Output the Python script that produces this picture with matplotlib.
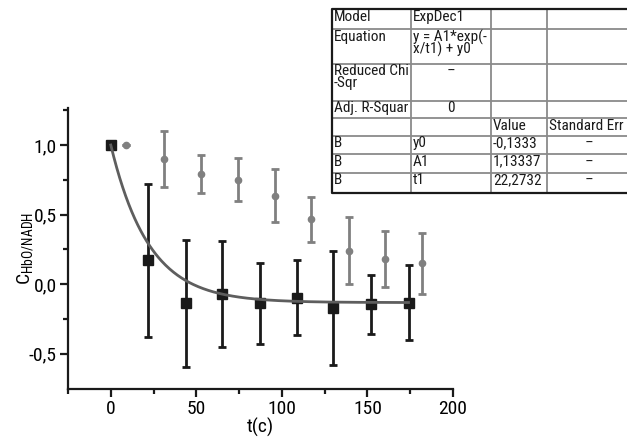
import numpy as np
import matplotlib
matplotlib.use("Agg")
import matplotlib.pyplot as plt
from matplotlib.lines import Line2D

FONT = 'Roboto Condensed'
plt.rcParams['font.family'] = [FONT, 'DejaVu Sans']
plt.rcParams['mathtext.fontset'] = 'custom'
plt.rcParams['mathtext.rm'] = FONT
plt.rcParams['mathtext.it'] = FONT

# ---- data ----
black_x = [0, 22, 44, 65, 87, 109, 130, 152, 174]
black_y = [1.0, 0.17, -0.14, -0.07, -0.14, -0.10, -0.175, -0.146, -0.134]
black_err = [0, 0.55, 0.46, 0.38, 0.29, 0.27, 0.41, 0.21, 0.27]

gray_x = [9, 31, 52.5, 74.4, 96, 117, 139, 160.5, 182]
gray_y = [1.0, 0.90, 0.79, 0.75, 0.635, 0.465, 0.24, 0.178, 0.149]
gray_err = [0, 0.20, 0.135, 0.155, 0.19, 0.16, 0.24, 0.20, 0.22]

fit_y0 = -0.1333
fit_A1 = 1.13337
fit_t1 = 22.2732

x_ticks = [0, 50, 100, 150, 200]
y_ticks = [-0.5, 0.0, 0.5, 1.0]
y_ticklabels = ['-0,5', '0,0', '0,5', '1,0']

table_rows = [
    ['Model', 'ExpDec1', '', ''],
    ['Equation', 'y = A1*exp(-\nx/t1) + y0', '', ''],
    ['Reduced Chi\n-Sqr', '--', '', ''],
    ['Adj. R-Squar', '0', '', ''],
    ['', '', 'Value', 'Standard Err'],
    ['B', 'y0', '-0,1333', '--'],
    ['B', 'A1', '1,13337', '--'],
    ['B', 't1', '22,2732', '--'],
]

W, H = 627, 441
fig = plt.figure(figsize=(W / 100, H / 100), dpi=100)
ax = fig.add_axes([68 / W, 1 - 389 / H, (453 - 68) / W, (389 - 108.3) / H])

BLACK = '#1a1a1a'
GRAY = '#808080'
CURVE = '#5e5e5e'

ax.errorbar(black_x, black_y, yerr=black_err, fmt='s', color=BLACK, ecolor=BLACK,
            elinewidth=2, capsize=3, capthick=2, markersize=6.5, zorder=3)
ax.errorbar(gray_x, gray_y, yerr=gray_err, fmt='o', color=GRAY, ecolor=GRAY,
            elinewidth=2, capsize=3, capthick=2, markersize=4.5, zorder=3)
xf = np.linspace(0, max(black_x), 300)
ax.plot(xf, fit_A1 * np.exp(-xf / fit_t1) + fit_y0, color=CURVE, lw=2, zorder=4)

ax.set_xlim(-25, 200)
ax.set_ylim(-0.755, 1.264)
ax.set_xticks(x_ticks)
ax.set_xticks([-25, 25, 75, 125, 175], minor=True)
ax.set_yticks(y_ticks)
ax.set_yticklabels(y_ticklabels)
ax.set_yticks([-0.25, 0.25, 0.75, 1.25], minor=True)
for s in ['top', 'right']:
    ax.spines[s].set_visible(False)
for s in ['left', 'bottom']:
    ax.spines[s].set_linewidth(1.6)
    ax.spines[s].set_color(BLACK)
ax.tick_params(which='major', direction='out', length=6, width=1.6, labelsize=14,
               color=BLACK, pad=2)
ax.tick_params(which='minor', direction='out', length=3.5, width=1.6, color=BLACK)
ax.set_xlabel('t(c)', fontsize=14, labelpad=0)
ax.set_ylabel(r'C$_{\mathrm{HbO/NADH}}$', fontsize=14)
ax.yaxis.set_label_coords((35 - 68) / (453 - 68), 0.5)

# ---- table in pixel coordinates ----
col_x = [332, 411, 491, 547, 660]
row_y = [9.3, 29.3, 64, 100.7, 118.3, 136, 154.3, 172.7, 192.7]
def fx(px): return px / W
def fy(py): return 1 - py / H

inner = '#8a8a8a'
for yy in row_y[1:-1]:
    fig.add_artist(Line2D([fx(col_x[0]), fx(col_x[-1])], [fy(yy), fy(yy)], color=inner, lw=1.3))
for xx in col_x[1:-1]:
    fig.add_artist(Line2D([fx(xx), fx(xx)], [fy(row_y[0]), fy(row_y[-1])], color=inner, lw=1.3))
fig.add_artist(Line2D([fx(col_x[-1]), fx(col_x[0]), fx(col_x[0]), fx(col_x[-1])],
                      [fy(row_y[0]), fy(row_y[0]), fy(row_y[-1]), fy(row_y[-1])],
                      color=BLACK, lw=1.6))

for r, row in enumerate(table_rows):
    for c, txt in enumerate(row):
        if not txt:
            continue
        centered = (txt in ('--', '0'))
        if centered:
            xpos = (col_x[c] + col_x[c + 1]) / 2 if c < 3 else (547 + 627) / 2 + 2
            ha = 'center'
        else:
            xpos = col_x[c] + 2
            ha = 'left'
        fig.text(fx(xpos), fy(row_y[r] + 0.3), txt, ha=ha, va='top', fontsize=11,
                 linespacing=0.76, color=BLACK)

fig.savefig('out.png', dpi=100)
